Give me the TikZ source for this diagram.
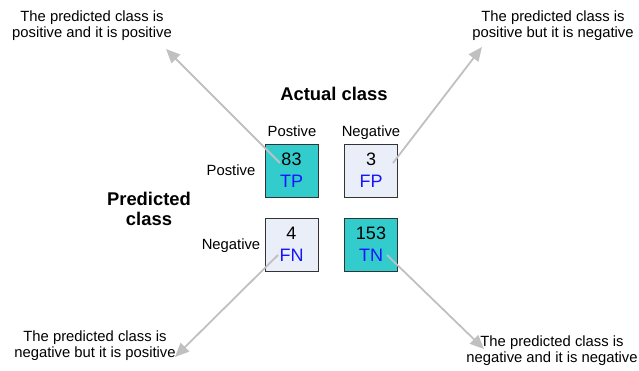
\documentclass[tikz,border=0pt]{standalone}
\usepackage{fontspec}
\setmainfont{Liberation Sans}
\usetikzlibrary{arrows.meta}
\definecolor{teal1}{HTML}{33CCCC}
\definecolor{light1}{HTML}{EAEEF8}
\definecolor{arr}{HTML}{C0C0C0}
\definecolor{bluetxt}{HTML}{1414FF}
\tikzset{
  cell/.style={draw=black!80, line width=0.9pt, minimum width=53pt, minimum height=53pt, inner sep=0pt},
  hit/.style={cell, fill=teal1},
  miss/.style={cell, fill=light1},
  note/.style={align=center, inner sep=0pt, font=\fontsize{14.8}{16}\selectfont},
  lab/.style={anchor=base, inner sep=0pt, font=\fontsize{14.8}{16}\selectfont},
  head/.style={align=center, inner sep=0pt, font=\fontsize{18.4}{20}\selectfont\bfseries},
  num/.style={anchor=base, inner sep=0pt, font=\fontsize{18}{20}\selectfont},
  cls/.style={anchor=base, inner sep=0pt, text=bluetxt, font=\fontsize{18}{20}\selectfont},
  pointer/.style={draw=arr, line width=1.8pt, -{Triangle[length=14pt,width=12pt]}}
}
\begin{document}
\begin{tikzpicture}[x=1pt,y=-1pt]
\useasboundingbox (0,0) rectangle (639,370);
% boxes
\node[hit]  (tp) at (291.5,170.5) {};
\node[miss] (fp) at (371,170.5) {};
\node[miss] (fn) at (291.5,244.5) {};
\node[hit]  (tn) at (371,244.5) {};
% box texts
\node[num] (tpn) at (291.5,165) {83};
\node[cls] (tpc) at (291.5,187) {TP};
\node[num] (fpn) at (371,165) {3};
\node[cls] (fpc) at (371,187) {FP};
\node[num] (fnn) at (291.5,239) {4};
\node[cls] (fnc) at (291.5,261) {FN};
\node[num] (tnn) at (371,239) {153};
\node[cls] (tnc) at (371,261) {TN};
% headers
\node[head] (actual) at (334,93.5) {Actual class};
\node[head] (pred) at (149,208.5) {Predicted\\class};
\node[lab] (colpos) at (292,136) {Postive};
\node[lab] (colneg) at (371,136) {Negative};
\node[lab] (rowpos) at (231,175) {Postive};
\node[lab] (rowneg) at (231,249) {Negative};
% notes
\node[note] (ntl) at (92,26) {The predicted class is\\positive and it is positive};
\node[note] (ntr) at (553,26) {The predicted class is\\positive but it is negative};
\node[note] (nbl) at (95,346) {The predicted class is\\negative but it is positive};
\node[note] (nbr) at (552,351) {The predicted class is\\negative and it is negative};
% arrow ends
\coordinate (stp) at (280,163);
\coordinate (sfp) at (393,163);
\coordinate (sfn) at (278,255);
\coordinate (stn) at (387,255);
\coordinate (etp) at (166,49);
\coordinate (efp) at (482,47);
\coordinate (efn) at (175,357);
\coordinate (etn) at (484,349);
\draw[pointer] (stp) -- (etp);
\draw[pointer] (sfp) -- (efp);
\draw[pointer] (sfn) -- (efn);
\draw[pointer] (stn) -- (etn);
\end{tikzpicture}
\end{document}
